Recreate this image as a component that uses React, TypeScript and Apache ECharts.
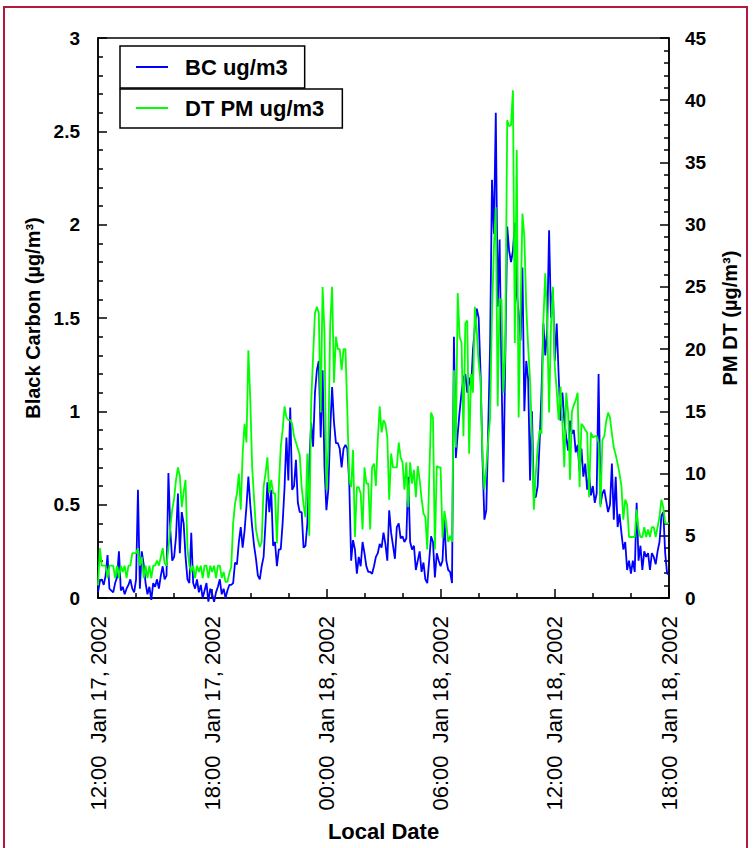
import React, { useEffect, useRef } from 'react';
import * as echarts from 'echarts';

// x axis: hours since 12:00 Jan 17, 2002 ; one sample every 6 minutes
const stepHours = 0.1;
const tickLabels = [
  '12:00\u00a0\u00a0Jan 17, 2002',
  '18:00\u00a0\u00a0Jan 17, 2002',
  '00:00\u00a0\u00a0Jan 18, 2002',
  '06:00\u00a0\u00a0Jan 18, 2002',
  '12:00\u00a0\u00a0Jan 18, 2002',
  '18:00\u00a0\u00a0Jan 18, 2002',
];

// Black carbon, ug/m3 (left axis)
const bcValues = [
  0.03, 0.09, 0.1, 0.07, 0.12, 0.23, 0.05, 0.04, 0.03, 0.08,
  0.11, 0.25, 0.04, 0.06, 0.02, 0.05, 0.07, 0.1, 0.05, 0.03,
  0.1, 0.58, 0.05, 0.25, 0.18, 0.08, 0.02, 0.06, -0.01, 0.08,
  0.06, 0.1, 0.05, 0.12, 0.17, 0.1, 0.12, 0.67, 0.36, 0.2,
  0.22, 0.33, 0.56, 0.24, 0.46, 0.4, 0.22, 0.1, 0.08, 0.35,
  0.08, 0.05, 0.1, 0.03, 0.07, 0.0, 0.04, 0.08, -0.02, 0.05,
  0.02, -0.02, 0.03, 0.06, 0.1, 0.02, 0.05, 0.0, 0.04, 0.07,
  0.07, 0.08, 0.19, 0.18, 0.3, 0.38, 0.27, 0.36, 0.49, 0.65,
  0.5, 0.38, 0.28, 0.21, 0.12, 0.1, 0.17, 0.22, 0.4, 0.62,
  0.46, 0.58, 0.28, 0.3, 0.17, 0.26, 0.26, 0.4, 0.59, 0.86,
  0.63, 1.02, 0.58, 0.6, 0.74, 0.51, 0.46, 0.46, 0.27, 0.28,
  0.4, 0.72, 0.94, 0.81, 1.1, 1.22, 1.27, 0.86, 1.22, 0.7,
  0.47, 0.58, 0.9, 1.13, 0.94, 0.83, 0.83, 0.8, 0.7, 0.8,
  0.82, 0.8, 0.62, 0.2, 0.31, 0.26, 0.13, 0.22, 0.17, 0.3,
  0.24, 0.17, 0.14, 0.14, 0.13, 0.17, 0.22, 0.24, 0.29, 0.27,
  0.35, 0.29, 0.2, 0.47, 0.35, 0.28, 0.21, 0.38, 0.4, 0.32,
  0.33, 0.3, 0.32, 0.65, 0.3, 0.26, 0.28, 0.15, 0.2, 0.25,
  0.14, 0.19, 0.1, 0.08, 0.2, 0.33, 0.3, 0.11, 0.24, 0.2,
  0.17, 0.2, 0.42, 0.2, 0.15, 0.14, 0.08, 1.4, 0.75, 0.88,
  1.0, 1.1, 1.18, 1.2, 1.1, 1.18, 1.12, 1.33, 1.45, 1.55,
  1.5, 1.2, 0.75, 0.42, 0.47, 0.9, 1.35, 2.24, 1.95, 2.6,
  1.56, 1.92, 1.2, 0.62, 1.3, 1.99, 1.86, 1.8, 1.86, 2.01,
  1.63, 1.53, 1.38, 1.77, 1.0, 1.27, 1.17, 0.63, 1.0, 0.54,
  0.54, 0.6, 0.83, 1.1, 1.47, 1.3, 1.44, 1.97, 1.5, 1.65,
  1.27, 1.47, 1.2, 0.95, 1.1, 0.95, 0.86, 0.79, 0.95, 0.88,
  0.9, 0.78, 0.82, 0.68, 0.8, 0.65, 0.72, 0.58, 0.66, 0.55,
  0.6, 0.51, 0.56, 1.2, 0.5, 0.56, 0.58, 0.52, 0.46, 0.5,
  0.72, 0.42, 0.65, 0.38, 0.45, 0.35, 0.26, 0.3, 0.15, 0.2,
  0.13, 0.2, 0.14, 0.51, 0.2, 0.28, 0.15, 0.25, 0.22, 0.24,
  0.15, 0.24, 0.22, 0.18, 0.25, 0.3, 0.44, 0.46, 0.24, 0.13,
  0.13,
];

// DT PM, ug/m3 (right axis)
const pmValues = [
  1.0, 4.0, 2.6, 2.6, 2.6, 1.6, 2.6, 2.6, 2.6, 1.6,
  2.6, 1.6, 2.6, 2.1, 2.6, 1.6, 2.6, 2.6, 3.6, 3.6,
  3.6, 4.0, 2.6, 3.3, 1.6, 2.6, 1.6, 2.6, 1.6, 2.6,
  2.6, 3.0, 2.6, 3.3, 4.0, 2.8, 2.6, 4.0, 5.7, 7.1,
  8.0, 9.5, 10.5, 9.8, 7.3, 8.5, 9.5, 4.0, 2.6, 2.1,
  2.6, 1.6, 2.6, 2.1, 2.6, 1.6, 2.6, 2.6, 1.6, 2.6,
  2.1, 2.6, 1.6, 2.6, 2.6, 1.6, 2.1, 1.3, 1.3, 2.0,
  2.5, 6.0, 7.6, 8.4, 10.0, 7.1, 11.6, 14.0, 12.5, 19.9,
  16.0, 10.5, 8.0, 5.5, 4.7, 4.1, 4.5, 8.9, 10.0, 11.3,
  8.4, 9.5, 8.4, 8.4, 4.4, 8.9, 12.1, 13.5, 15.4, 14.5,
  14.3, 14.3, 14.0, 13.0, 12.5, 12.0, 11.5, 8.9, 7.5, 6.5,
  11.6, 5.0, 15.7, 19.4, 22.9, 23.4, 22.9, 14.9, 25.0, 21.3,
  8.7, 12.0, 22.0, 25.0, 17.3, 21.0, 20.0, 20.0, 18.3, 20.0,
  20.0, 15.0, 9.5, 8.9, 11.9, 4.9, 8.9, 8.9, 8.4, 5.5,
  10.5, 9.2, 9.2, 5.5, 10.5, 10.8, 9.0, 12.7, 15.4, 13.3,
  14.3, 14.0, 12.9, 7.9, 11.6, 10.5, 10.5, 10.5, 12.5, 11.3,
  10.9, 8.7, 10.9, 7.3, 10.9, 9.2, 10.3, 8.1, 10.6, 9.5,
  8.0, 6.8, 6.5, 3.9, 9.5, 14.9, 14.5, 3.9, 10.6, 10.5,
  10.5, 4.8, 7.0, 6.0, 4.5, 5.0, 4.5, 18.3, 12.1, 24.5,
  21.0, 20.5, 13.0, 22.1, 22.3, 11.6, 18.0, 16.5, 23.4, 21.5,
  18.9, 17.5, 11.5, 8.7, 10.5, 12.7, 14.5, 22.9, 28.2, 31.4,
  15.4, 24.0, 24.0, 16.5, 20.0, 38.4, 37.9, 38.0, 40.8, 20.5,
  36.0, 14.5, 22.9, 30.9, 29.0, 23.4, 20.2, 17.5, 13.0, 7.1,
  10.0, 12.0, 13.5, 13.2, 22.3, 26.1, 22.3, 14.9, 22.0, 25.0,
  18.6, 16.7, 14.3, 17.0, 14.0, 10.5, 16.5, 14.9, 9.5, 15.0,
  15.5, 15.9, 16.5, 8.9, 14.0, 13.8, 13.5, 13.3, 8.1, 13.3,
  12.9, 13.0, 13.0, 12.5, 7.3, 12.7, 13.0, 14.2, 14.9, 14.5,
  13.2, 12.1, 11.5, 10.8, 10.0, 9.0, 6.3, 7.9, 7.5, 4.9,
  4.9, 4.9, 4.9, 7.1, 5.5, 4.9, 4.9, 5.7, 4.9, 5.5,
  4.9, 5.7, 5.7, 4.9, 5.7, 6.5, 7.9, 7.3, 6.0, 6.0,
  6.0,
];

const seriesNames = ['BC ug/m3', 'DT PM ug/m3'];
const seriesColors = ['#0000ff', '#00ff00'];

export default function App() {
  const ref = useRef<HTMLDivElement>(null);

  useEffect(() => {
    if (!ref.current) return;
    const chart = echarts.init(ref.current, null, { renderer: 'svg' });
    const font = '"Liberation Sans", Arial, Helvetica, sans-serif';
    const black = '#000';
    const axisLine = { show: true, lineStyle: { color: black, width: 1.5 } };
    const axisTick = { show: true, inside: true, length: 9, lineStyle: { color: black, width: 1.5 } };
    const minorLine = { color: black, width: 1.5 };

    const bcData = bcValues.map((v, i) => [i * stepHours, v]);
    const pmData = pmValues.map((v, i) => [i * stepHours, v]);

    const legendCommon = {
      orient: 'horizontal' as const,
      itemWidth: 32,
      itemHeight: 2,
      selectedMode: false,
      borderColor: black,
      borderWidth: 1.5,
      backgroundColor: '#fff',
      textStyle: {
        fontSize: 22,
        fontWeight: 'bold' as const,
        fontFamily: font,
        color: black,
        lineHeight: 22,
        padding: [0, 0, 0, 12],
      },
    };

    chart.setOption({
      animation: false,
      backgroundColor: '#fff',
      textStyle: { fontFamily: font },
      grid: {
        left: 98,
        right: 84,
        top: 38,
        bottom: 250,
        show: true,
        borderColor: black,
        borderWidth: 1.5,
        containLabel: false,
      },
      legend: [
        {
          ...legendCommon,
          data: [{ name: seriesNames[0], icon: 'rect', itemStyle: { color: seriesColors[0] } }],
          left: 120,
          top: 46,
          padding: [10, 17, 10, 16],
        },
        {
          ...legendCommon,
          data: [{ name: seriesNames[1], icon: 'rect', itemStyle: { color: seriesColors[1] } }],
          left: 120,
          top: 89,
          padding: [8, 18, 9, 16],
        },
      ],
      xAxis: {
        type: 'value',
        min: 0,
        max: 30,
        interval: 6,
        axisLine,
        axisTick,
        minorTick: { show: true, splitNumber: 3, length: 5, lineStyle: minorLine },
        splitLine: { show: false },
        axisLabel: {
          rotate: 90,
          margin: 18,
          fontSize: 22,
          color: black,
          fontFamily: font,
          hideOverlap: false,
          formatter: (v: number) => tickLabels[Math.round(v / 6)] ?? '',
        },
        name: 'Local Date',
        nameLocation: 'middle',
        nameGap: 222,
        nameTextStyle: { fontSize: 22, fontWeight: 'bold', color: black, fontFamily: font },
      },
      yAxis: [
        {
          type: 'value',
          position: 'left',
          min: 0,
          max: 3,
          interval: 0.5,
          axisLine,
          axisTick,
          minorTick: { show: true, splitNumber: 5, length: 5, lineStyle: minorLine },
          splitLine: { show: false },
          axisLabel: { margin: 18, fontSize: 19, fontWeight: 'bold', color: black, fontFamily: font },
          name: 'Black Carbon (µg/m³)',
          nameLocation: 'middle',
          nameRotate: 90,
          nameGap: 55,
          nameTextStyle: { fontSize: 20, fontWeight: 'bold', color: black, fontFamily: font },
        },
        {
          type: 'value',
          position: 'right',
          min: 0,
          max: 45,
          interval: 5,
          axisLine,
          axisTick,
          minorTick: { show: true, splitNumber: 5, length: 5, lineStyle: minorLine },
          splitLine: { show: false },
          axisLabel: { margin: 16, fontSize: 19, fontWeight: 'bold', color: black, fontFamily: font },
          name: 'PM DT (µg/m³)',
          nameLocation: 'middle',
          nameRotate: 90,
          nameGap: 51,
          nameTextStyle: { fontSize: 20, fontWeight: 'bold', color: black, fontFamily: font },
        },
      ],
      graphic: [
        {
          type: 'rect',
          silent: true,
          shape: { x: 4, y: 7, width: 743, height: 850 },
          style: { fill: 'none', stroke: '#b3193c', lineWidth: 2 },
        },
      ],
      series: [
        {
          name: seriesNames[0],
          type: 'line',
          yAxisIndex: 0,
          data: bcData,
          symbol: 'none',
          clip: false,
          lineStyle: { color: seriesColors[0], width: 1.8 },
          itemStyle: { color: seriesColors[0] },
          z: 2,
        },
        {
          name: seriesNames[1],
          type: 'line',
          yAxisIndex: 1,
          data: pmData,
          symbol: 'none',
          lineStyle: { color: seriesColors[1], width: 1.8 },
          itemStyle: { color: seriesColors[1] },
          z: 3,
        },
      ],
    });

    return () => chart.dispose();
  }, []);

  return (
    <div
      ref={ref}
      style={{ position: 'fixed', left: 0, top: 0, width: 753, height: 848, background: '#fff' }}
    />
  );
}
